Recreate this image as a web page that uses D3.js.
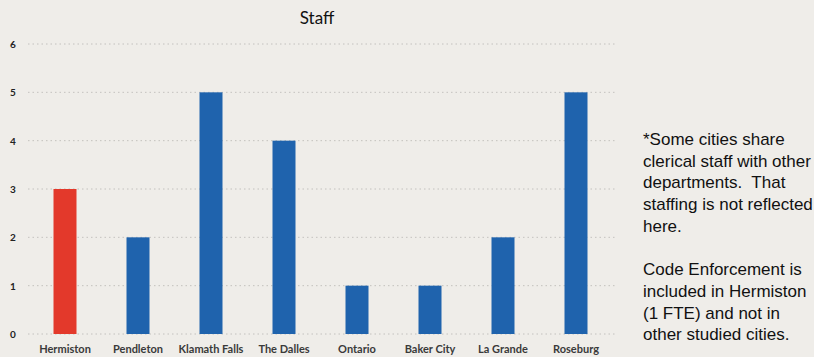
<!DOCTYPE html>
<html><head><meta charset="utf-8">
<script src="https://cdn.jsdelivr.net/npm/d3@7"></script>
<style>
html,body{margin:0;padding:0;background:#efede9;}
svg{display:block;}
</style></head>
<body>
<svg id="chart" width="814" height="357"></svg>
<script>
const categories = ["Hermiston","Pendleton","Klamath Falls","The Dalles","Ontario","Baker City","La Grande","Roseburg"];
const staffValues = [3,2,5,4,1,1,2,5];
const barColors = ["#e3392b","#1f63ad","#1f63ad","#1f63ad","#1f63ad","#1f63ad","#1f63ad","#1f63ad"];
const yTicks = [0,1,2,3,4,5,6];
const titleText = "Staff";
const noteLines = ["*Some cities share","clerical staff with other","departments.  That","staffing is not reflected","here.","","Code Enforcement is","included in Hermiston","(1 FTE) and not in","other studied cities."];

const svg = d3.select("#chart");
svg.append("rect").attr("width",814).attr("height",357).attr("fill","#efede9");

const x = d3.scaleBand().domain(categories).range([28.5,612.5]).paddingInner(0.685).paddingOuter(0.3425);
const y = d3.scaleLinear().domain([0,6]).range([334,44]);

// gridlines
svg.append("g").selectAll("line").data(yTicks).join("line")
  .attr("x1",28).attr("x2",616)
  .attr("y1",d=>y(d)).attr("y2",d=>y(d))
  .attr("stroke","#b8b6b2").attr("stroke-width",0.8).attr("stroke-dasharray","1.5,3");

// y axis labels
const yAxis = d3.axisLeft(y).tickValues(yTicks).tickSize(0).tickFormat(d3.format("d"));
const ga = svg.append("g").attr("transform","translate(18,0)").call(yAxis);
ga.select(".domain").remove();
ga.selectAll("text").attr("font-family","Lato, 'Open Sans', sans-serif").attr("font-weight","bold")
  .attr("font-size",10).attr("fill","#222").attr("text-anchor","middle").attr("dx",-5).attr("dy","0.35em").attr("x",0);

// bars
svg.append("g").selectAll("rect").data(categories).join("rect")
  .attr("x",d=>x(d)).attr("width",x.bandwidth())
  .attr("y",(d,i)=>y(staffValues[i])).attr("height",(d,i)=>y(0)-y(staffValues[i]))
  .attr("fill",(d,i)=>barColors[i]);

// x axis labels
const xAxis = d3.axisBottom(x).tickSize(0);
const gx = svg.append("g").attr("transform","translate(0,340)").call(xAxis);
gx.select(".domain").remove();
gx.selectAll("text").attr("font-family","Lato, 'Open Sans', sans-serif").attr("font-weight","bold")
  .attr("font-size",11).attr("fill","#3a3a3a").attr("dy","0.9em");

// title
svg.append("text").attr("x",317).attr("y",24).attr("text-anchor","middle")
  .attr("font-family","Lato, 'Open Sans', sans-serif").attr("font-size",17).attr("fill","#111").text(titleText);

// note
const note = svg.append("text").attr("font-family","'Liberation Sans', Arial, sans-serif").attr("font-size",17).attr("fill","#111")
  .style("white-space","pre");
noteLines.forEach((t,i)=>{
  note.append("tspan").attr("x",643).attr("y",145+i*21.7).text(t);
});
</script>
</body></html>
